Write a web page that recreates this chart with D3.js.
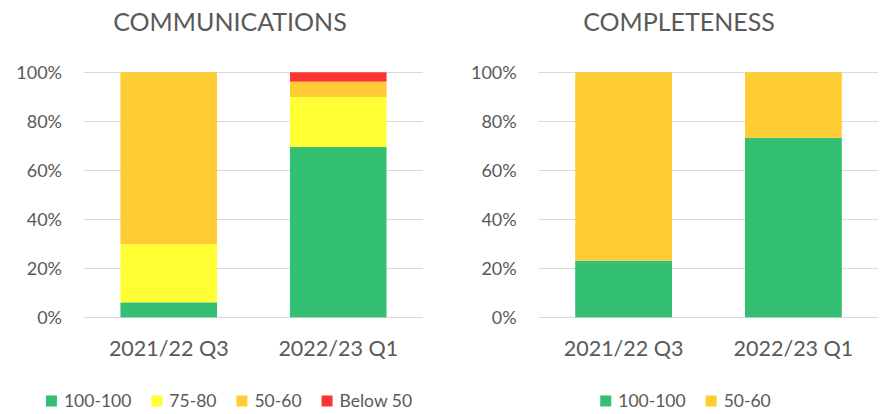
<!DOCTYPE html>
<html>
<head>
<meta charset="utf-8">
<script src="https://cdn.jsdelivr.net/npm/d3@7"></script>
<style>
  body { margin: 0; background: #fff; }
  text { font-family: Lato, "Open Sans", sans-serif; fill: #595959; }
</style>
</head>
<body>
<div id="chart"></div>
<script>
// data (percent of each quarter)
var quarters = ["2021/22 Q3", "2022/23 Q1"];
var yTicks = [0, 20, 40, 60, 80, 100];

var commBands = ["100-100", "75-80", "50-60", "Below 50"];
var commValues = {
  "100-100":  [6.1, 69.5],
  "75-80":    [23.7, 20.4],
  "50-60":    [70.2, 6.3],
  "Below 50": [0, 3.8]
};

var compBands = ["100-100", "50-60"];
var compValues = {
  "100-100": [23.1, 73.3],
  "50-60":   [76.9, 26.7]
};

var colors = {
  "100-100": "#33c073",
  "75-80": "#ffff33",
  "50-60": "#ffcd33",
  "Below 50": "#ff3333"
};

var W = 889, H = 414;
var svg = d3.select("#chart").append("svg")
    .attr("width", W)
    .attr("height", H);

// draws one stacked 100% column chart
function drawChart(opts) {
  var g = svg.append("g");

  var x = d3.scaleBand()
      .domain(quarters)
      .range([opts.left, opts.right])
      .paddingInner(0.43)
      .paddingOuter(0.215);

  var y = d3.scaleLinear()
      .domain([0, 100])
      .range([317.3, 72.3]);

  // gridlines
  g.selectAll(".grid")
    .data(yTicks)
    .enter().append("line")
      .attr("x1", opts.left)
      .attr("x2", opts.right)
      .attr("y1", function(d) { return Math.round(y(d)) + 0.5; })
      .attr("y2", function(d) { return Math.round(y(d)) + 0.5; })
      .attr("stroke", "#d9d9d9")
      .attr("stroke-width", 1);

  // y tick labels
  g.selectAll(".ytick")
    .data(yTicks)
    .enter().append("text")
      .attr("x", opts.left - 22)
      .attr("y", function(d) { return y(d) + 6.5; })
      .attr("text-anchor", "end")
      .style("font-size", "18px")
      .text(function(d) { return d + "%"; });

  // stacked bars
  var rows = quarters.map(function(q, i) {
    var r = { q: q };
    opts.bands.forEach(function(b) { r[b] = opts.values[b][i]; });
    return r;
  });
  var series = d3.stack().keys(opts.bands)(rows);

  g.selectAll(".layer")
    .data(series)
    .enter().append("g")
      .attr("fill", function(d) { return colors[d.key]; })
    .selectAll("rect")
    .data(function(d) { return d; })
    .enter().append("rect")
      .attr("x", function(d) { return x(d.data.q); })
      .attr("width", x.bandwidth())
      .attr("y", function(d) { return y(d[1]); })
      .attr("height", function(d) { return y(d[0]) - y(d[1]); });

  // x labels
  g.selectAll(".xlab")
    .data(quarters)
    .enter().append("text")
      .attr("x", function(d) { return x(d) + x.bandwidth() / 2; })
      .attr("y", 356)
      .attr("text-anchor", "middle")
      .style("font-size", "21.5px")
      .text(function(d) { return d; });

  // title
  g.append("text")
    .attr("x", opts.titleX)
    .attr("y", 31)
    .attr("text-anchor", "middle")
    .style("font-size", "25px")
    .text(opts.title);

  // legend, centred under the chart
  var leg = g.append("g");
  var cx = 0;
  opts.bands.forEach(function(b) {
    var item = leg.append("g").attr("transform", "translate(" + cx + ",0)");
    item.append("rect")
      .attr("x", 0).attr("y", 395.5)
      .attr("width", 11).attr("height", 11)
      .attr("fill", colors[b]);
    var t = item.append("text")
      .attr("x", 18)
      .attr("y", 407)
      .style("font-size", "17.5px")
      .text(b);
    cx += 18 + t.node().getComputedTextLength() + 20;
  });
  var legW = cx - 20;
  leg.attr("transform", "translate(" + (opts.legendX - legW / 2) + ",0)");
}

drawChart({
  title: "COMMUNICATIONS",
  titleX: 230,
  left: 84, right: 423,
  bands: commBands,
  values: commValues,
  legendX: 229
});

drawChart({
  title: "COMPLETENESS",
  titleX: 679,
  left: 538.7, right: 878.3,
  bands: compBands,
  values: compValues,
  legendX: 685.5
});
</script>
</body>
</html>
